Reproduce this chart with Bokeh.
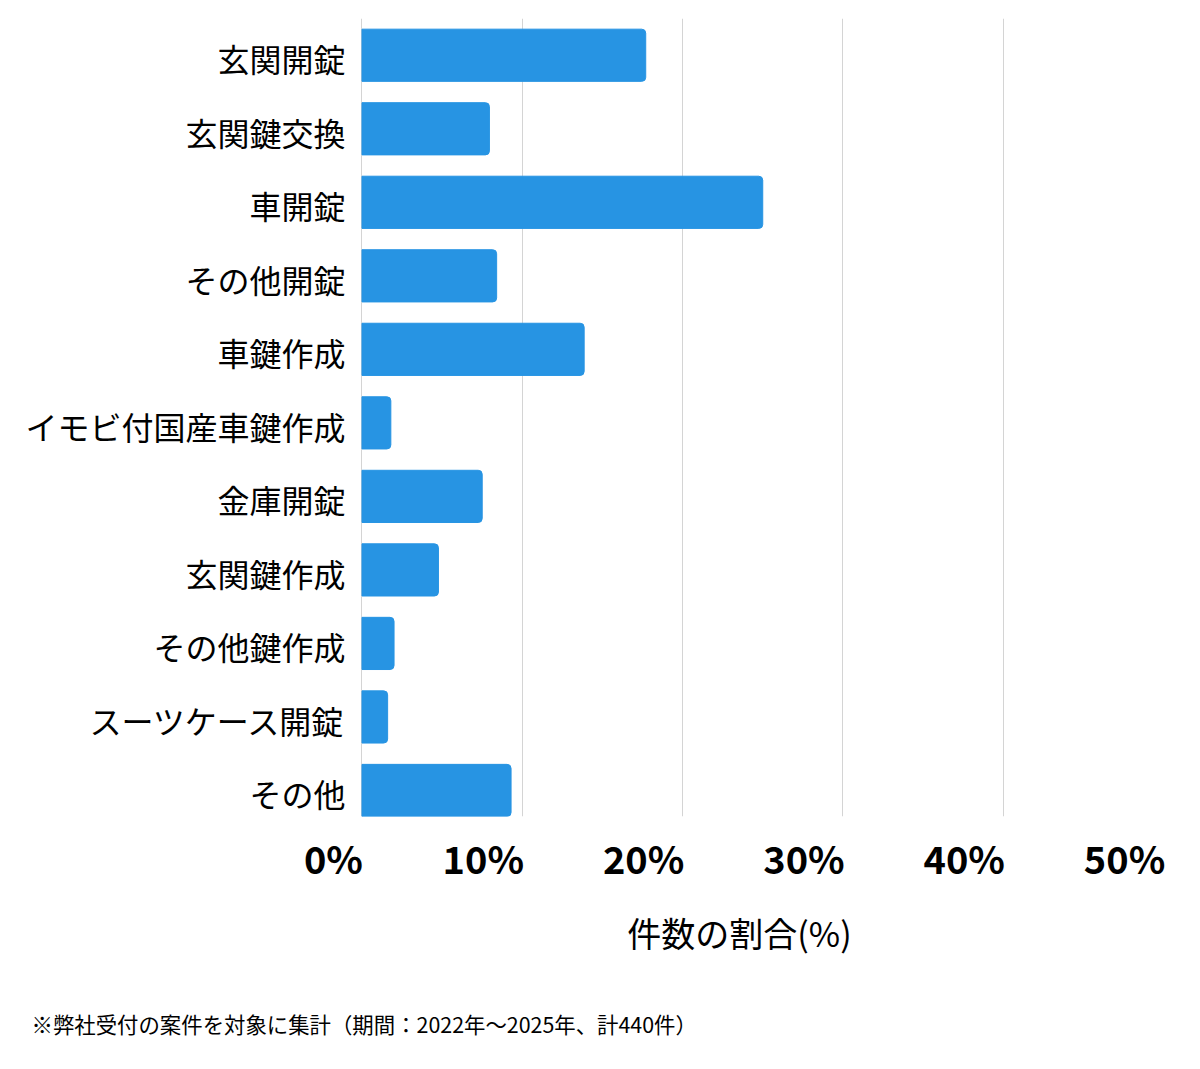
from bokeh.plotting import figure
from bokeh.models import Range1d, FixedTicker, Title
from bokeh.embed import file_html
from bokeh.resources import INLINE

# データ（件数の割合, %）
categories = ["玄関開錠", "玄関鍵交換", "車開錠", "その他開錠", "車鍵作成",
              "イモビ付国産車鍵作成", "金庫開錠", "玄関鍵作成", "その他鍵作成",
              "スーツケース開錠", "その他"]
shares = [17.7, 7.95, 25.0, 8.4, 13.86, 1.8, 7.5, 4.77, 2.0, 1.6, 9.3]
x_ticks = [0, 10, 20, 30, 40, 50]
x_tick_labels = ["0%", "10%", "20%", "30%", "40%", "50%"]
note = "※弊社受付の案件を対象に集計（期間：2022年～2025年、計440件）"

JP = "Noto Sans CJK JP"

ypos = list(range(len(categories)))

# 目盛ラベルはグリッド線の左側に右寄せで置く（ラベル幅の半分だけずらす）
half_w = [1.78 if l == "0%" else 2.43 for l in x_tick_labels]
label_pos = [t - h for t, h in zip(x_ticks, half_w)]
label_y = [i + 0.04 for i in ypos]

p = figure(width=1184, height=1062, output_backend="svg", toolbar_location=None,
           x_range=Range1d(-2.9, 50), y_range=Range1d(len(categories) - 1 + 0.354, -0.5),
           min_border_left=315, min_border_right=21, min_border_top=18,
           min_border_bottom=246)
p.outline_line_color = None
p.background_fill_color = "white"

p.hbar(y=ypos, left=0, right=shares, height=0.71, color="#2794e3",
       border_radius=(0, 4, 4, 0))

# x軸
p.xaxis.ticker = FixedTicker(ticks=label_pos)
p.xaxis.major_label_overrides = {pos: l for pos, l in zip(label_pos, x_tick_labels)}
p.xaxis.major_label_text_font = JP
p.xaxis.major_label_text_font_style = "bold"
p.xaxis.major_label_text_font_size = "38px"
p.xaxis.major_label_text_color = "#000000"
p.xaxis.major_label_standoff = 7
p.xaxis.axis_line_color = None
p.xaxis.major_tick_line_color = None
p.xaxis.minor_tick_line_color = None
p.xaxis.axis_label = "件数の割合(%)"
p.xaxis.axis_label_text_font = JP
p.xaxis.axis_label_text_font_style = "normal"
p.xaxis.axis_label_text_font_size = "34px"
p.xaxis.axis_label_text_color = "#000000"
p.xaxis.axis_label_standoff = 20

# y軸
p.yaxis.ticker = FixedTicker(ticks=label_y)
p.yaxis.major_label_overrides = {y: c for y, c in zip(label_y, categories)}
p.yaxis.major_label_text_font = JP
p.yaxis.major_label_text_font_size = "32px"
p.yaxis.major_label_text_color = "#000000"
p.yaxis.major_label_standoff = -36
p.yaxis.axis_line_color = None
p.yaxis.major_tick_line_color = None
p.yaxis.minor_tick_line_color = None

p.xgrid.ticker = FixedTicker(ticks=x_ticks)
p.xgrid.grid_line_color = "#d4d4d4"
p.xgrid.grid_line_width = 1
p.ygrid.grid_line_color = None

# 軸タイトルと注記の間の余白
p.add_layout(Title(text=" ", text_font_size="10px", standoff=11), "below")

# 注記
p.add_layout(Title(text=note, align="left", offset=-284, standoff=45,
                   text_font=JP, text_font_size="21.4px", text_font_style="normal",
                   text_color="#000000"), "below")

open("out.html", "w").write(file_html(p, INLINE))
